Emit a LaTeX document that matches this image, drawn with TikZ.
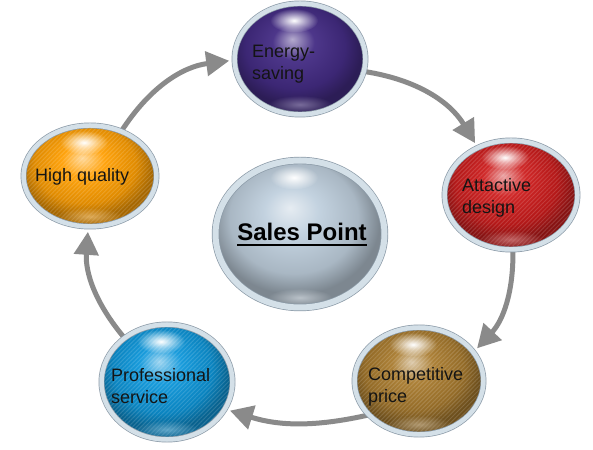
\documentclass[tikz,border=0pt]{standalone}
\usepackage{fontspec}
\setmainfont{Liberation Sans}
\usetikzlibrary{shapes.geometric,arrows.meta,fadings,patterns.meta,backgrounds}

\definecolor{ringgray}{RGB}{140,155,168}
\definecolor{rimblue}{RGB}{212,224,232}
\definecolor{arrowgray}{RGB}{138,138,138}
\definecolor{violetball}{RGB}{68,44,132}
\definecolor{redball}{RGB}{205,28,28}
\definecolor{goldball}{RGB}{168,122,45}
\definecolor{blueball}{RGB}{12,150,218}
\definecolor{orangeball}{RGB}{255,158,0}
\definecolor{silverball}{RGB}{192,208,222}

\colorlet{ballc}{gray}
\pgfdeclareradialshading[ballc]{gloss}{\pgfpoint{-3bp}{9bp}}{color(0bp)=(ballc!40!white); color(8bp)=(ballc!95!white); color(19bp)=(ballc!88!black); color(25bp)=(ballc!65!black); color(50bp)=(ballc!65!black)}
\tikzfading[name=glowfade, inner color=transparent!0, outer color=transparent!100]
\newcommand{\stripeop}{0.14}

\tikzset{
  ball/.style={ellipse, inner sep=0pt, draw=ringgray, line width=0.7pt,
    double=rimblue, double distance=4.5pt,
    shade, shading=gloss, /utils/exec={\colorlet{ballc}{#1}},
    path picture={
      \fill[pattern={Lines[angle=45,distance=3pt,line width=1pt]}, pattern color=white, opacity=\stripeop]
        (path picture bounding box.south west) rectangle (path picture bounding box.north east);
      \fill[white, path fading=glowfade] ([xshift=-6pt,yshift=-17pt]path picture bounding box.north) ellipse (24pt and 12pt);
      \fill[ballc!45!white, path fading=glowfade, opacity=.6] ([yshift=10pt]path picture bounding box.south) ellipse (32pt and 9pt);
    }},
  smooth ball/.style={/utils/exec={\renewcommand{\stripeop}{0}}},
  lbl/.style={anchor=west, align=left, inner sep=0pt, text=black!92,
    font=\fontsize{18}{22}\selectfont},
  flow/.style={draw=arrowgray, line width=5pt, -{Triangle[length=23pt,width=24pt]}, shorten >=5pt}
}

\begin{document}
\begin{tikzpicture}[x=1pt,y=1pt]
\useasboundingbox (0,0) rectangle (593,449);

% the five points round the centre
\node[ball=violetball, smooth ball, minimum width=131pt, minimum height=111pt] (energy) at (300,390) {};
\node[ball=redball, minimum width=133pt, minimum height=109pt] (design) at (511,254) {};
\node[ball=goldball, minimum width=129pt, minimum height=107pt] (price) at (419,68) {};
\node[ball=blueball, minimum width=131pt, minimum height=115pt] (service) at (167,67) {};
\node[ball=orangeball, minimum width=133pt, minimum height=101pt] (quality) at (90,273) {};
\node[ball=silverball, smooth ball, double distance=6pt, minimum width=169pt, minimum height=147pt] (sales) at (300,215) {};

\node[lbl] (energytxt) at ([xshift=-48pt,yshift=-5pt]energy.center) {Energy-\\saving};
\node[lbl] (designtxt) at ([xshift=-49pt,yshift=-3pt]design.center) {Attactive\\design};
\node[lbl] (pricetxt) at ([xshift=-51pt,yshift=-6pt]price.center) {Competitive\\price};
\node[lbl] (servicetxt) at ([xshift=-56pt,yshift=-4pt]service.center) {Professional\\service};
\node[lbl] (qualitytxt) at ([xshift=-55pt,yshift=-1pt]quality.center) {High quality};
\node[inner sep=0pt, text depth=0pt, font=\fontsize{24}{28}\selectfont\bfseries] (salestxt) at ([xshift=2pt,yshift=2pt]sales.center) {Sales Point};
\draw[line width=1.6pt] ([yshift=-4pt]salestxt.south west) -- ([yshift=-4pt]salestxt.south east);

% cycle
\begin{pgfonlayer}{background}
\fill[white] (0,0) rectangle (593,449);
\draw[flow] (quality.55) to[bend left=25] (energy.181);
\draw[flow] (energy.-11) to[bend left=25] (design.125);
\draw[flow] (design.-88) to[bend left=22] (price.28);
\draw[flow] (price.214) to[bend left=15] (service.-25);
\draw[flow] (service.134) to[bend left=22] (quality.-92);
\end{pgfonlayer}
\end{tikzpicture}
\end{document}
